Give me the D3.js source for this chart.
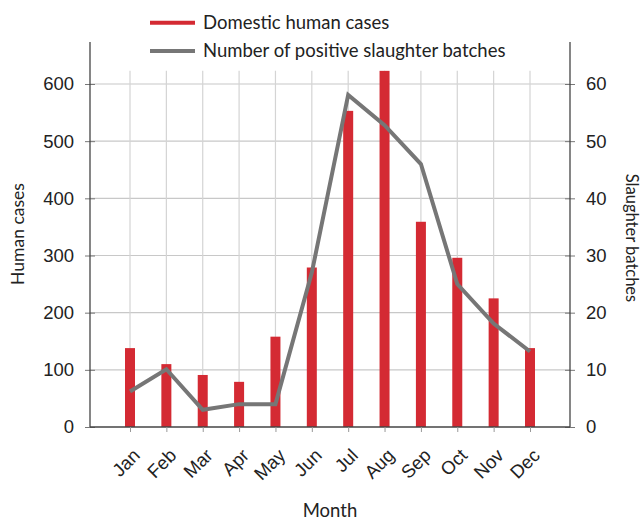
<!DOCTYPE html>
<html>
<head>
<meta charset="utf-8">
<script src="https://cdn.jsdelivr.net/npm/d3@7"></script>
<style>
  body { margin: 0; background: #fff; }
  svg { font-family: Lato, "Open Sans", sans-serif; }
  .axis text { font-size: 18.5px; fill: #222; }
</style>
</head>
<body>
<svg width="642" height="520"></svg>
<script>
var months = ["Jan", "Feb", "Mar", "Apr", "May", "Jun", "Jul", "Aug", "Sep", "Oct", "Nov", "Dec"];
var humanCases = [138, 110, 91, 79, 158, 279, 553, 623, 359, 296, 225, 138];
var slaughterBatches = [6.2, 10.1, 3.0, 4.0, 4.0, 27, 58.1, 52.8, 46, 25, 18.1, 13.2];
var leftTicks = [0, 100, 200, 300, 400, 500, 600];
var rightTicks = [0, 10, 20, 30, 40, 50, 60];
var legendLabels = ["Domestic human cases", "Number of positive slaughter batches"];

var red = "#d42a33", grey = "#767676";
var fs = 18.5;

var svg = d3.select("svg");

var x = d3.scalePoint()
    .domain(months)
    .range([90, 570])
    .padding(1.1);

var yLeft = d3.scaleLinear().domain([0, 600]).range([427, 84]);
var yRight = d3.scaleLinear().domain([0, 60]).range([427, 84]);

var plotTop = yLeft(623), axisTop = 42;

// grid
var grid = svg.append("g").attr("class", "grid");
grid.selectAll("line.h")
  .data(leftTicks.slice(1))
  .enter().append("line")
    .attr("x1", 90).attr("x2", 570)
    .attr("y1", function(d) { return yLeft(d); })
    .attr("y2", function(d) { return yLeft(d); })
    .attr("stroke", "#c8c8c8").attr("stroke-width", 1.2);
grid.selectAll("line.v")
  .data(months)
  .enter().append("line")
    .attr("x1", function(d) { return x(d); })
    .attr("x2", function(d) { return x(d); })
    .attr("y1", plotTop).attr("y2", 427)
    .attr("stroke", "#d4d4d4").attr("stroke-width", 1.2);

// bars
svg.append("g")
  .selectAll("rect")
  .data(humanCases)
  .enter().append("rect")
    .attr("x", function(d, i) { return x(months[i]) - 5; })
    .attr("width", 10)
    .attr("y", function(d) { return Math.max(yLeft(d), plotTop); })
    .attr("height", function(d) { return 427 - Math.max(yLeft(d), plotTop); })
    .attr("fill", red);

// line
var line = d3.line()
    .x(function(d, i) { return x(months[i]); })
    .y(function(d) { return yRight(d); });

svg.append("path")
    .datum(slaughterBatches)
    .attr("fill", "none")
    .attr("stroke", grey)
    .attr("stroke-width", 4)
    .attr("stroke-linejoin", "miter")
    .attr("d", line);

// axes
var leftAxis = d3.axisLeft(yLeft).tickValues(leftTicks).tickSize(5).tickPadding(11).tickSizeOuter(0);
var rightAxis = d3.axisRight(yRight).tickValues(rightTicks).tickSize(5).tickPadding(11).tickSizeOuter(0);

var gl = svg.append("g").attr("class", "axis").attr("transform", "translate(90,0)").call(leftAxis);
var gr = svg.append("g").attr("class", "axis").attr("transform", "translate(570,0)").call(rightAxis);
[gl, gr].forEach(function(g) {
  g.select(".domain").remove();
  g.selectAll(".tick line").attr("x1", -5).attr("x2", 5).attr("stroke", "#777");
  g.append("line").attr("y1", axisTop).attr("y2", 427).attr("stroke", "#444").attr("stroke-width", 1.3);
});

// bottom axis
svg.append("line")
    .attr("x1", 90).attr("x2", 570).attr("y1", 427).attr("y2", 427)
    .attr("stroke", "#444").attr("stroke-width", 1.3);

var xAxis = d3.axisBottom(x).tickSize(5).tickSizeOuter(0);
var gx = svg.append("g").attr("class", "axis").attr("transform", "translate(0,427)").call(xAxis);
gx.select(".domain").remove();
gx.selectAll(".tick line").attr("stroke", "#999");
gx.selectAll(".tick text")
    .attr("text-anchor", "end")
    .attr("transform", "translate(6,25) rotate(-45)")
    .attr("dy", "0.35em")
    .attr("y", 0)
    .attr("x", 0);

// axis titles
svg.append("text")
    .attr("transform", "translate(24,234) rotate(-90)")
    .attr("text-anchor", "middle")
    .attr("font-size", 17.5).attr("fill", "#222")
    .text("Human cases");

svg.append("text")
    .attr("transform", "translate(626,238) rotate(90)")
    .attr("text-anchor", "middle")
    .attr("font-size", 16.5).attr("fill", "#222")
    .text("Slaughter batches");

svg.append("text")
    .attr("x", 330).attr("y", 517)
    .attr("text-anchor", "middle")
    .attr("font-size", fs).attr("fill", "#222")
    .text("Month");

// legend
var legend = svg.append("g").selectAll("g")
  .data(legendLabels)
  .enter().append("g")
    .attr("transform", function(d, i) { return "translate(150," + (22.7 + i * 28.3) + ")"; });
legend.append("line")
    .attr("x1", 0).attr("x2", 45)
    .attr("stroke", function(d, i) { return i == 0 ? red : grey; })
    .attr("stroke-width", 4);
legend.append("text")
    .attr("x", 53).attr("dy", "0.35em")
    .attr("font-size", fs).attr("fill", "#222")
    .text(function(d) { return d; });
</script>
</body>
</html>
